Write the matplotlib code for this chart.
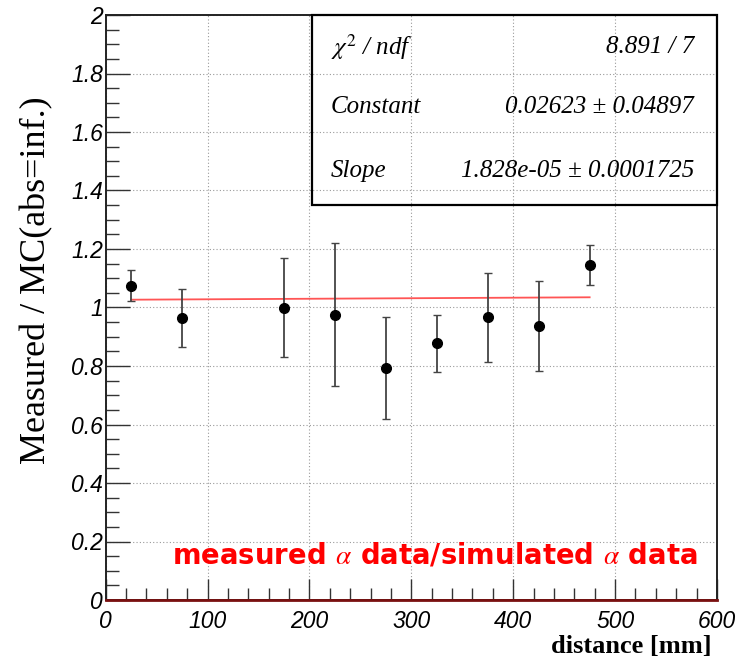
import numpy as np
import matplotlib
matplotlib.use("Agg")
import matplotlib.pyplot as plt
from matplotlib.patches import Rectangle
from matplotlib.ticker import MultipleLocator

plt.rcParams['mathtext.fontset'] = 'stix'

# data
distance = [25, 75, 175, 225, 275, 325, 375, 425, 475]
ratio = [1.075, 0.965, 1.000, 0.976, 0.792, 0.878, 0.966, 0.937, 1.146]
ratio_err = [0.053, 0.099, 0.169, 0.244, 0.174, 0.097, 0.153, 0.154, 0.069]

# fit result (line is drawn as 1 + constant + slope*x)
fit_const = 0.02623
fit_const_err = 0.04897
fit_slope = 1.828e-05
fit_slope_err = 0.0001725
chi2 = 8.891
ndf = 7

W, H = 742, 660
fig = plt.figure(figsize=(W / 100, H / 100), dpi=100)

def px(x, y):
    # pixel position (from top-left) -> figure fraction
    return x / W, 1 - y / H

ax = fig.add_axes([105.7 / W, (H - 600) / H, 611.3 / W, 585 / H])
ax.set_xlim(0, 600)
ax.set_ylim(0, 2)

ax.grid(True, color='#9a9a9a', linestyle=(0, (1, 2)), linewidth=0.8)
ax.set_axisbelow(True)

# fit line
xf = np.array([distance[0], distance[-1]])
ax.plot(xf, 1 + fit_const + fit_slope * xf, color='#ff5555', lw=1.3, zorder=3)

# data points
ax.errorbar(distance, ratio, yerr=ratio_err, fmt='o', color='black',
            ecolor='#444444', elinewidth=1.3, capsize=3, capthick=1.0,
            markersize=7, zorder=4)

# dark red line along zero
ax.plot([0, 600], [0, 0], color='#7a1010', lw=2.0, clip_on=False, zorder=5)

# axes style (ROOT-like)
ax.xaxis.set_major_locator(MultipleLocator(100))
ax.xaxis.set_minor_locator(MultipleLocator(20))
ax.yaxis.set_major_locator(MultipleLocator(0.2))
ax.yaxis.set_minor_locator(MultipleLocator(0.05))
ax.tick_params(which='both', direction='in', colors='#333333', width=1.0,
               top=False, right=False)
ax.tick_params(axis='x', which='major', length=15, pad=7)
ax.tick_params(axis='x', which='minor', length=9)
ax.tick_params(axis='y', which='major', length=17, pad=2)
ax.tick_params(axis='y', which='minor', length=9)
ax.xaxis.set_major_formatter(plt.FuncFormatter(lambda v, p: f"{v:g}"))
ax.yaxis.set_major_formatter(plt.FuncFormatter(lambda v, p: f"{v:g}"))
for lab in ax.get_xticklabels() + ax.get_yticklabels():
    lab.set_fontfamily('Liberation Sans')
    lab.set_fontstyle('italic')
    lab.set_fontsize(16.5)
    lab.set_color('black')
for s in ax.spines.values():
    s.set_linewidth(1.4)
    s.set_color('#222222')

# axis titles
fig.text(*px(37, 280), 'Measured / MC(abs=inf.)', rotation=90,
         ha='center', va='center', fontsize=26, family='Liberation Serif')
fig.text(*px(712, 646), 'distance [mm]', ha='right', va='center',
         fontsize=19, family='Liberation Serif', fontweight='bold')

# statistics box
bx0, bx1 = (312 - 105.7) / 611.3, (716.5 - 105.7) / 611.3
by0 = (600 - 204.5) / 585
ax.add_patch(Rectangle((bx0, by0), bx1 - bx0, 1 - by0, transform=ax.transAxes,
                       fill=False, edgecolor='black', lw=1.6, clip_on=False,
                       zorder=6))
sfont = dict(family='Liberation Serif', style='italic', fontsize=18, va='center')
rows = [
    (r'$\chi^2$ / ndf', f'{chi2:g} / {ndf}'),
    ('Constant', f'{fit_const:g} \u00b1 {fit_const_err:g}'),
    ('Slope', f'{fit_slope:.3e} \u00b1 {fit_slope_err:g}'),
]
row_y = [47, 107, 171]
for (lab, val), yy in zip(rows, row_y):
    fig.text(*px(331, yy), lab, ha='left', **sfont)
    fig.text(*px(694, yy), val, ha='right', **sfont)

# red annotation
fig.text(*px(172, 555), r'measured $\alpha$ data/simulated $\alpha$ data',
         ha='left', va='center', color='red', fontsize=19.8,
         family='DejaVu Sans', fontweight='bold')

fig.savefig('out.png', dpi=100)
